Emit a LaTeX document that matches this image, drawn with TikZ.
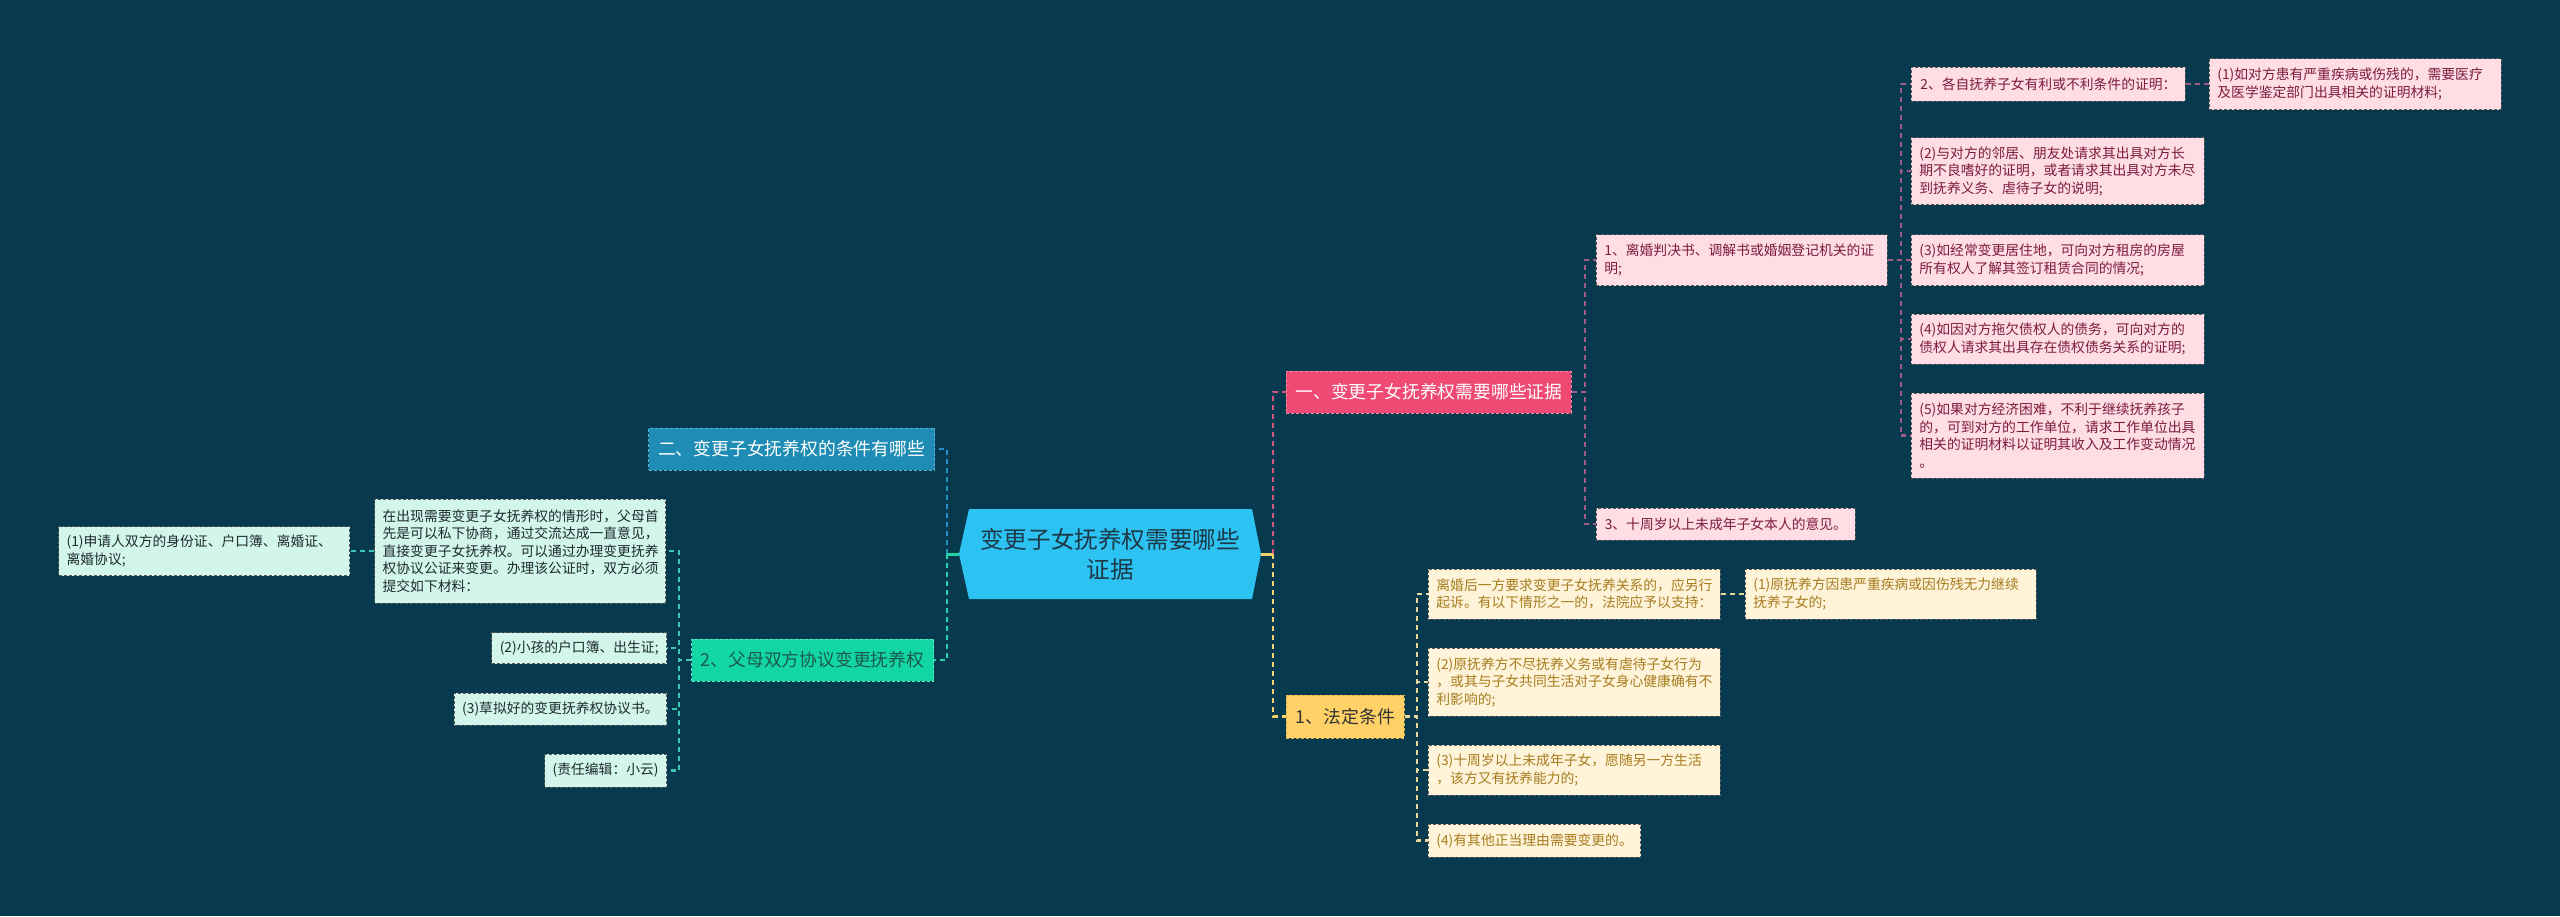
\documentclass[tikz,border=0pt]{standalone}
\usepackage{fontspec}
\setmainfont{Noto Sans CJK SC}
\usetikzlibrary{calc}
\definecolor{bg}{HTML}{073A4E}
\definecolor{cfill}{HTML}{2CC2F2}
\definecolor{ctext}{HTML}{1D3947}
\definecolor{onefill}{HTML}{EE4A74}
\definecolor{oneborder}{HTML}{F58AA6}
\definecolor{twofill}{HTML}{1E8CB4}
\definecolor{twoborder}{HTML}{5BB3D3}
\definecolor{ltfill}{HTML}{12D6A3}
\definecolor{ltborder}{HTML}{5AE6C0}
\definecolor{lttext}{HTML}{1C5A4E}
\definecolor{fafill}{HTML}{FFD166}
\definecolor{faborder}{HTML}{E0B24A}
\definecolor{fatext}{HTML}{333333}
\definecolor{pinkfill}{HTML}{FFDDE4}
\definecolor{pinktext}{HTML}{7C1C3E}
\definecolor{yfill}{HTML}{FFF4D9}
\definecolor{ytext}{HTML}{A67C1E}
\definecolor{gfill}{HTML}{D3F6EC}
\definecolor{gtext}{HTML}{1E2B2B}
\definecolor{bordergray}{HTML}{5A5A5A}
\definecolor{pinkA}{HTML}{D4567F}
\definecolor{pinkB}{HTML}{A35A83}
\definecolor{yelA}{HTML}{F2D36B}
\definecolor{yelB}{HTML}{E9D89C}
\definecolor{tealA}{HTML}{22D3A5}
\definecolor{tealB}{HTML}{3CC8B0}
\definecolor{blueA}{HTML}{2A90C0}
\newcommand\szSmall{\fontsize{13.8}{17.5}\selectfont}
\newcommand\szMid{\fontsize{17.8}{22}\selectfont}
\newcommand\szBig{\fontsize{23.6}{30}\selectfont}
\tikzset{
  bx/.style={rectangle, inner xsep=8pt, inner ysep=2pt, align=left, font=\szSmall,
    draw=bordergray, line width=0.8pt, dash pattern=on 3pt off 2pt},
  pbx/.style={bx, fill=pinkfill, text=pinktext},
  ybx/.style={bx, fill=yfill, text=ytext},
  gbx/.style={bx, fill=gfill, text=gtext},
  mainbx/.style={rectangle, inner xsep=9pt, inner ysep=2pt, font=\szMid,
    line width=0.8pt, dash pattern=on 3pt off 2pt, minimum height=42pt},
  conn/.style={line width=2.2pt, dash pattern=on 5pt off 4pt},
  stub/.style={line width=3pt},
}
\begin{document}
\begin{tikzpicture}[x=1pt,y=-1pt]
\useasboundingbox (0,0) rectangle (2560,916);
\fill[bg] (0,0) rectangle (2560,916);

% centre
\coordinate (c) at (1110,554);
\fill[cfill] ($(c)+(-151,0)$) -- ($(c)+(-141,-45)$) -- ($(c)+(142,-45)$) -- ($(c)+(151,0)$)
  -- ($(c)+(142,45)$) -- ($(c)+(-141,45)$) -- cycle;
\node[font=\szBig, text=ctext, align=center, minimum width=302pt, minimum height=90pt, inner sep=0pt]
  (center) at (c) {变更子女抚养权需要哪些\\证据};

% main branches
\node[mainbx, anchor=west, fill=onefill, draw=oneborder, text=white, minimum width=285pt]
  (one) at (1286,392) {一、变更子女抚养权需要哪些证据};
\node[mainbx, anchor=west, fill=fafill, draw=faborder, text=fatext, minimum width=118pt, minimum height=43pt]
  (fa) at (1286,716.5) {1、法定条件};
\node[mainbx, anchor=east, fill=twofill, draw=twoborder, text=white, minimum width=286pt]
  (two) at (935,449) {二、变更子女抚养权的条件有哪些};
\node[mainbx, anchor=east, fill=ltfill, draw=ltborder, text=lttext, minimum width=242pt]
  (lt) at (934,660) {2、父母双方协议变更抚养权};

% pink branch
\node[pbx, anchor=west, text width=275pt, minimum height=51pt] (r1) at (1596,260)
  {1、离婚判决书、调解书或婚姻登记机关的证\\明;};
\node[pbx, anchor=west, minimum width=259pt, minimum height=32pt] (r3) at (1596,524)
  {3、十周岁以上未成年子女本人的意见。};
\node[pbx, anchor=west, minimum width=274pt, minimum height=34pt] (s2) at (1911,84)
  {2、各自抚养子女有利或不利条件的证明：};
\node[pbx, anchor=west, text width=276pt, minimum height=51pt] (s2a) at (2209,84)
  {(1)如对方患有严重疾病或伤残的，需要医疗\\及医学鉴定部门出具相关的证明材料;};
\node[pbx, anchor=west, text width=277pt, minimum height=67pt] (p2) at (1911,171)
  {(2)与对方的邻居、朋友处请求其出具对方长\\期不良嗜好的证明，或者请求其出具对方未尽\\到抚养义务、虐待子女的说明;};
\node[pbx, anchor=west, text width=277pt, minimum height=51pt] (p3) at (1911,260)
  {(3)如经常变更居住地，可向对方租房的房屋\\所有权人了解其签订租赁合同的情况;};
\node[pbx, anchor=west, text width=277pt, minimum height=50pt] (p4) at (1911,339)
  {(4)如因对方拖欠债权人的债务，可向对方的\\债权人请求其出具存在债权债务关系的证明;};
\node[pbx, anchor=west, text width=277pt, minimum height=85pt] (p5) at (1911,435.5)
  {(5)如果对方经济困难，不利于继续抚养孩子\\的，可到对方的工作单位，请求工作单位出具\\相关的证明材料以证明其收入及工作变动情况\\。};

% yellow branch
\node[ybx, anchor=west, text width=276pt, minimum height=50pt] (y1) at (1428,594)
  {离婚后一方要求变更子女抚养关系的，应另行\\起诉。有以下情形之一的，法院应予以支持：};
\node[ybx, anchor=west, text width=275pt, minimum height=50pt] (y1a) at (1745,594)
  {(1)原抚养方因患严重疾病或因伤残无力继续\\抚养子女的;};
\node[ybx, anchor=west, text width=276pt, minimum height=68pt] (y2) at (1428,682)
  {(2)原抚养方不尽抚养义务或有虐待子女行为\\，或其与子女共同生活对子女身心健康确有不\\利影响的;};
\node[ybx, anchor=west, text width=276pt, minimum height=50pt] (y3) at (1428,770)
  {(3)十周岁以上未成年子女，愿随另一方生活\\，该方又有抚养能力的;};
\node[ybx, anchor=west, minimum width=212pt, minimum height=33pt] (y4) at (1428,840.5)
  {(4)有其他正当理由需要变更的。};

% green branch
\node[gbx, anchor=east, text width=275pt, minimum height=104pt] (l0) at (666,551)
  {在出现需要变更子女抚养权的情形时，父母首\\先是可以私下协商，通过交流达成一直意见，\\直接变更子女抚养权。可以通过办理变更抚养\\权协议公证来变更。办理该公证时，双方必须\\提交如下材料：};
\node[gbx, anchor=east, text width=275pt, minimum height=49pt] (l0a) at (350,551)
  {(1)申请人双方的身份证、户口簿、离婚证、\\离婚协议;};
\node[gbx, anchor=east, minimum width=174pt, minimum height=31pt] (l2) at (667,648)
  {(2)小孩的户口簿、出生证;};
\node[gbx, anchor=east, minimum width=212pt, minimum height=32pt] (l3) at (667,709)
  {(3)草拟好的变更抚养权协议书。};
\node[gbx, anchor=east, minimum width=121pt, minimum height=33pt] (l4) at (667,770.5)
  {(责任编辑：小云)};

% connectors: left
\coordinate (lj) at (947,554);
\coordinate (rj) at (1273,554);
\draw[conn, blueA] (lj) |- (two.east);
\draw[conn, tealA] (lj) |- (lt.east);
\draw[stub, tealA] (center.west) -- (lj);
\foreach \n in {l0,l2,l3,l4}
  \draw[conn, tealB] (lt.west) -- ([xshift=-12pt]lt.west) |- (\n.east);
\draw[conn, tealB] (l0.west) -- (l0a.east);

% connectors: right
\draw[conn, pinkA] (rj) |- (one.west);
\draw[conn, yelA] (rj) |- (fa.west);
\draw[stub, yelA] (center.east) -- (rj);
\foreach \n in {r1,r3}
  \draw[conn, pinkB] (one.east) -- ([xshift=13pt]one.east) |- (\n.west);
\foreach \n in {s2,p2,p3,p4,p5}
  \draw[conn, pinkB] (r1.east) -- ([xshift=13pt]r1.east) |- (\n.west);
\draw[conn, pinkB] (s2.east) -- (s2a.west);
\foreach \n in {y1,y2,y3,y4}
  \draw[conn, yelB] (fa.east) -- ([xshift=12pt]fa.east) |- (\n.west);
\draw[conn, yelB] (y1.east) -- (y1a.west);
\end{tikzpicture}
\end{document}
